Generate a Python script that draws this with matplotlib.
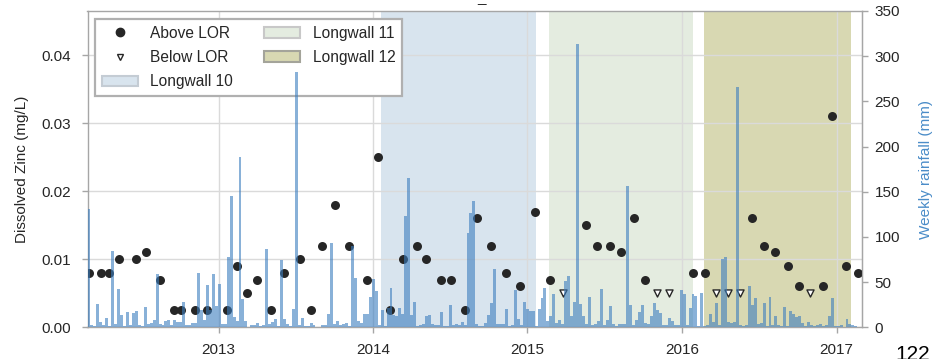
import matplotlib
matplotlib.use('Agg')
import matplotlib.pyplot as plt
import matplotlib.dates as mdates
import pandas as pd
from matplotlib.patches import Patch
from matplotlib.lines import Line2D

plt.rcParams['font.family'] = ['Liberation Sans', 'DejaVu Sans']

# zinc samples above the limit of reporting
above_dates = ['2012-02-29', '2012-03-28', '2012-04-16', '2012-05-11', '2012-06-19',
               '2012-07-13', '2012-08-15', '2012-09-18', '2012-10-04', '2012-11-07',
               '2012-12-05', '2013-01-21', '2013-02-13', '2013-03-09', '2013-04-01',
               '2013-05-04', '2013-06-04', '2013-07-13', '2013-08-07', '2013-09-03',
               '2013-10-02', '2013-11-06', '2013-12-18', '2014-01-12', '2014-02-09',
               '2014-03-12', '2014-04-15', '2014-05-06', '2014-06-11', '2014-07-04',
               '2014-08-06', '2014-09-05', '2014-10-07', '2014-11-11', '2014-12-15',
               '2015-01-20', '2015-02-24', '2015-05-19', '2015-06-14', '2015-07-15',
               '2015-08-11', '2015-09-10', '2015-10-07', '2016-01-28', '2016-02-24',
               '2016-06-14', '2016-07-13', '2016-08-08', '2016-09-08', '2016-10-05',
               '2016-11-29', '2016-12-22', '2017-01-24', '2017-02-20']
above_zinc = [0.008, 0.008, 0.008, 0.010, 0.010,
              0.011, 0.007, 0.0025, 0.0025, 0.0025,
              0.0025, 0.0025, 0.009, 0.005, 0.007,
              0.0025, 0.008, 0.010, 0.0025, 0.012,
              0.018, 0.012, 0.007, 0.025, 0.0025,
              0.010, 0.012, 0.010, 0.007, 0.007,
              0.0025, 0.016, 0.012, 0.008, 0.006,
              0.017, 0.007, 0.015, 0.012, 0.012,
              0.011, 0.016, 0.007, 0.008, 0.008,
              0.016, 0.012, 0.011, 0.009, 0.006,
              0.006, 0.031, 0.009, 0.008]

# samples below LOR (plotted at the LOR)
below_dates = ['2015-03-26', '2015-11-03', '2015-12-02', '2016-03-22',
               '2016-04-19', '2016-05-18', '2016-10-31']
below_zinc = [0.005, 0.005, 0.005, 0.005, 0.005, 0.005, 0.005]

# weekly rainfall (mm), weeks starting 2012-02-26
rain_start = '2012-02-26'
rain = [131, 2, 1, 26, 6, 2, 10, 1, 84, 4,
        42, 14, 1, 17, 2, 16, 18, 3, 1, 23,
        4, 5, 8, 59, 4, 3, 7, 8, 2, 8,
        6, 6, 28, 3, 3, 5, 5, 60, 19, 8,
        47, 19, 59, 24, 48, 4, 4, 78, 145, 11,
        7, 188, 31, 7, 0, 2, 2, 5, 1, 2,
        87, 4, 6, 9, 1, 74, 9, 4, 1, 20,
        283, 2, 10, 1, 1, 5, 2, 0, 0, 2,
        3, 15, 93, 4, 7, 2, 4, 5, 1, 90,
        54, 7, 5, 15, 15, 34, 53, 40, 3, 19,
        1, 21, 44, 14, 12, 21, 15, 123, 165, 14,
        28, 1, 3, 4, 13, 14, 4, 3, 3, 17,
        1, 1, 25, 3, 4, 3, 6, 3, 104, 127,
        140, 4, 1, 1, 5, 14, 27, 65, 4, 4,
        4, 20, 1, 2, 41, 9, 3, 28, 20, 18,
        18, 1, 20, 32, 43, 7, 12, 37, 5, 8,
        4, 51, 57, 12, 28, 313, 26, 13, 4, 33,
        3, 4, 7, 42, 3, 8, 24, 4, 1, 4,
        4, 4, 156, 25, 3, 8, 17, 25, 5, 4,
        12, 27, 19, 16, 3, 2, 10, 7, 3, 3,
        41, 37, 2, 21, 37, 35, 1, 38, 1, 3,
        15, 6, 27, 3, 76, 78, 6, 5, 6, 266,
        3, 1, 3, 46, 25, 32, 4, 5, 27, 1,
        33, 3, 13, 3, 1, 23, 1, 18, 15, 11,
        13, 5, 1, 6, 3, 1, 3, 4, 1, 3,
        12, 32, 1, 1, 3, 0, 9, 4, 2, 1,
        0, 0]

# longwall mining periods
lw_names = ['Longwall 10', 'Longwall 11', 'Longwall 12']
lw_start = ['2014-01-20', '2015-02-20', '2016-02-23']
lw_end = ['2015-01-22', '2016-01-27', '2017-02-03']
lw_colors = ['#3c78aa', '#78a064', '#808000']
lw_alpha = [0.2, 0.2, 0.3]
lw_edges = ['#c4ccd4', '#c8c8c8', '#a4a49a']

dark = '#262626'
spine_c = '#a6a6a6'

fig = plt.figure(figsize=(9.35, 3.59), dpi=100)
ax = fig.add_axes([87.5 / 935, 1 - 327.3 / 359, (862 - 87.5) / 935, (327.3 - 11) / 359])

for s, e, c, a in zip(lw_start, lw_end, lw_colors, lw_alpha):
    ax.axvspan(pd.Timestamp(s), pd.Timestamp(e), color=c, alpha=a, lw=0, zorder=0)

ax.grid(True, color='#dadada', lw=1, zorder=0.5)
ax.set_axisbelow(True)

ax.scatter(pd.to_datetime(above_dates), above_zinc, s=42, c=dark, lw=0, zorder=3)
ax.scatter(pd.to_datetime(below_dates), below_zinc, s=26, marker='v', facecolor='white',
           edgecolor=dark, lw=1, zorder=3)

ax.set_ylim(0, 0.0465)
ax.set_yticks([0, 0.01, 0.02, 0.03, 0.04])
ax.set_yticklabels(['0.00', '0.01', '0.02', '0.03', '0.04'])
ax.set_xlim(pd.Timestamp('2012-02-26'), pd.Timestamp('2017-03-02'))
ax.xaxis.set_major_locator(mdates.YearLocator())
ax.xaxis.set_major_formatter(mdates.DateFormatter('%Y'))
ax.set_ylabel('Dissolved Zinc (mg/L)', fontsize=11, color=dark, labelpad=9)

for sp in ax.spines.values():
    sp.set_color(spine_c)
    sp.set_linewidth(1)
ax.tick_params(axis='both', direction='out', length=4, width=1, color=spine_c,
               labelsize=11, labelcolor=dark)
ax.tick_params(axis='y', pad=8)
ax.tick_params(axis='x', pad=7)

handles = [Line2D([], [], ls='none', marker='o', ms=6, mfc=dark, mec=dark),
           Line2D([], [], ls='none', marker='v', ms=5, mfc='white', mec=dark, mew=1)]
labels = ['Above LOR', 'Below LOR']
for n, c, a, ec in zip(lw_names, lw_colors, lw_alpha, lw_edges):
    handles.append(Patch(facecolor=(*matplotlib.colors.to_rgb(c), a), edgecolor=ec, lw=1.5))
    labels.append(n)
leg = ax.legend(handles, labels, loc='upper left', ncol=2, fontsize=11.2, frameon=True,
                fancybox=False, framealpha=1, edgecolor='#b0b0b0', handlelength=2.3,
                labelspacing=0.6, borderpad=0.45, columnspacing=2.0)
leg.get_frame().set_linewidth(1.6)
for t in leg.get_texts():
    t.set_color(dark)

# rainfall on the right axis
ax2 = ax.twinx()
weeks = pd.date_range(rain_start, periods=len(rain), freq='7D')
ax2.bar(weeks, rain, width=7, align='edge', color='#3b7dbf', alpha=0.6, lw=0)
ax2.set_ylim(0, 350)
ax2.set_yticks(range(0, 351, 50))
ax2.grid(False)
ax2.set_ylabel('Weekly rainfall (mm)', fontsize=11, color='#4a8cc8', labelpad=14)
for name, sp in ax2.spines.items():
    sp.set_visible(name == 'right')
    sp.set_color(spine_c)
ax2.tick_params(axis='y', direction='out', length=4, width=1, color=spine_c,
                labelsize=11, labelcolor=dark, pad=5)

fig.text(481 / 935, 1 - 2 / 359, '_', fontsize=11, color=dark, ha='center', va='baseline')
fig.text(895 / 935, -1 / 359, '122', fontsize=15, color='black', ha='left', va='baseline')

fig.savefig('out.png', dpi=100)
